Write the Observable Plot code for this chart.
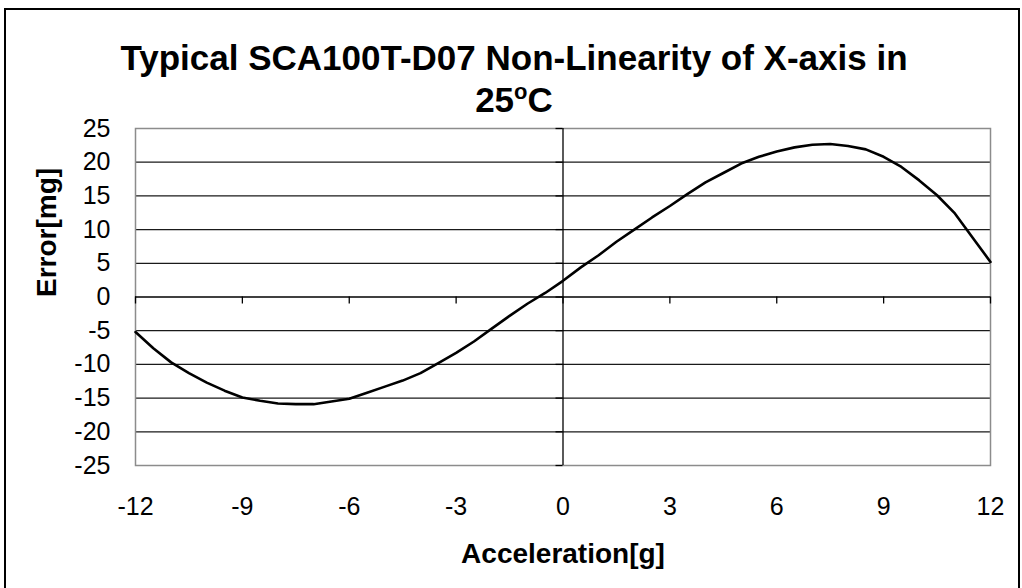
<!DOCTYPE html>
<html>
<head>
<meta charset="utf-8">
<script src="https://cdn.jsdelivr.net/npm/d3@7"></script>
<script src="https://cdn.jsdelivr.net/npm/@observablehq/plot@0.6"></script>
<style>
  html, body { margin: 0; padding: 0; background: #fff; }
  body { width: 1022px; height: 588px; overflow: hidden; position: relative; font-family: "Liberation Sans", Arial, sans-serif; }
  #frame { position: absolute; left: 4px; top: 8px; width: 1012px; height: 600px; border: 2px solid #000; border-bottom: none; pointer-events: none; z-index: 5; }
  #title { box-sizing: border-box; height: 100px; padding-top: 37px; padding-left: 6px; text-align: center; font-weight: bold; font-size: 35px; line-height: 42px; color: #000; position: relative; z-index: 2; }
  #title sup { font-size: 22px; vertical-align: 0; position: relative; top: -13px; }
  svg { display: block; overflow: visible; }
</style>
</head>
<body>
<div id="frame"></div>
<div id="title">Typical SCA100T-D07 Non-Linearity of X-axis in<br>25<sup>o</sup>C</div>
<div id="chart"></div>
<script>
const accel = [-12, -11.5, -11, -10.5, -10, -9.5, -9, -8.5, -8, -7.5, -7, -6.5, -6, -5.5, -5, -4.5, -4, -3.5, -3, -2.5, -2, -1.5, -1, -0.5, 0, 0.5, 1, 1.5, 2, 2.5, 3, 3.5, 4, 4.5, 5, 5.5, 6, 6.5, 7, 7.5, 8, 8.5, 9, 9.5, 10, 10.5, 11, 11.5, 12];
const errorMg = [-5.2, -7.6, -9.7, -11.3, -12.7, -13.9, -14.9, -15.4, -15.8, -15.9, -15.9, -15.5, -15.1, -14.2, -13.3, -12.4, -11.3, -9.8, -8.3, -6.6, -4.7, -2.8, -1.0, 0.6, 2.4, 4.4, 6.2, 8.2, 10.0, 11.8, 13.5, 15.3, 17.0, 18.4, 19.8, 20.8, 21.6, 22.2, 22.6, 22.7, 22.4, 21.9, 20.8, 19.3, 17.3, 15.1, 12.4, 8.8, 5.2];
const xTicks = [-12, -9, -6, -3, 0, 3, 6, 9, 12];
const yTicks = [-25, -20, -15, -10, -5, 0, 5, 10, 15, 20, 25];
const gridLines = [-20, -15, -10, -5, 5, 10, 15, 20];
const xTitle = "Acceleration[g]";
const yTitle = "Error[mg]";

const data = accel.map((a, i) => ({a, e: errorMg[i]}));
const fmt = d => String(d);

const chart = Plot.plot({
  width: 1022,
  height: 488,
  marginTop: 28,
  marginBottom: 123,
  marginLeft: 135,
  marginRight: 32,
  style: {fontFamily: "'Liberation Sans', Arial, sans-serif", color: "#000", background: "transparent", overflow: "visible"},
  x: {domain: [-12, 12]},
  y: {domain: [-25, 25]},
  marks: [
    Plot.ruleY(gridLines, {y: d => d, stroke: "#1a1a1a", strokeWidth: 1.3}),
    Plot.frame({stroke: "#8c8c8c", strokeWidth: 1.5}),
    Plot.ruleY([0], {y: d => d, stroke: "#000", strokeWidth: 1.3}),
    Plot.ruleX([0], {x: d => d, stroke: "#000", strokeWidth: 1.3}),
    Plot.ruleX(xTicks, {x: d => d, y1: () => 0, y2: () => 0, insetBottom: -7, stroke: "#000", strokeWidth: 1.3}),
    Plot.ruleY(yTicks, {y: d => d, x1: () => 0, x2: () => 0, insetLeft: -7, stroke: "#000", strokeWidth: 1.3}),
    Plot.line(data, {x: "a", y: "e", stroke: "#000", strokeWidth: 2.6, curve: "linear"}),
    Plot.axisY({ticks: yTicks, tickSize: 0, tickPadding: 25, fontSize: 25, tickFormat: fmt, label: null}),
    Plot.axisX({ticks: xTicks, tickSize: 0, tickPadding: 32, fontSize: 25, tickFormat: fmt, label: null}),
    Plot.text([xTitle], {frameAnchor: "bottom", dy: 97, lineAnchor: "bottom", text: d => d, fontSize: 28, fontWeight: "bold", fill: "#000"}),
    Plot.text([yTitle], {frameAnchor: "left", dx: -80, rotate: -90, lineAnchor: "bottom", text: d => d, fontSize: 28, fontWeight: "bold", fill: "#000"})
  ]
});
document.getElementById("chart").appendChild(chart);
</script>
</body>
</html>
